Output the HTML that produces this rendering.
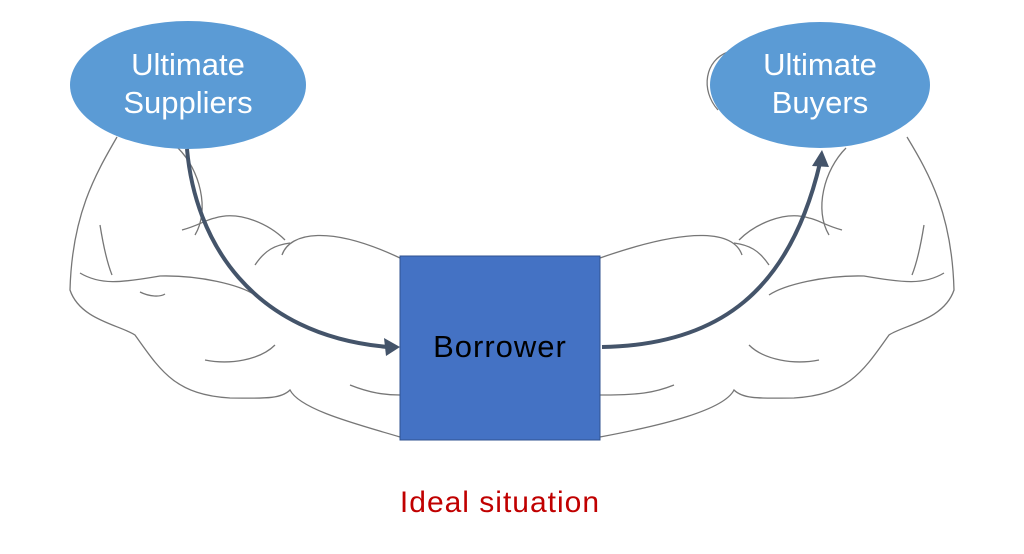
<!DOCTYPE html>
<html><head><style>
body{margin:0;background:#fff;width:1024px;height:549px;overflow:hidden;font-family:"Liberation Sans",sans-serif}
</style></head><body>
<svg width="1024" height="549" viewBox="0 0 1024 549" xmlns="http://www.w3.org/2000/svg">
<g fill="none" stroke="#555" stroke-width="1.3" opacity="0.8">
<path d="M117,137 C95,175 72,215 70,290 C80,320 120,325 135,335 C160,370 175,395 230,398 C260,398 280,400 290,390 C300,410 360,425 400,437"/>
<path d="M178,148 C200,170 210,210 195,235"/>
<path d="M182,230 C200,225 205,220 215,218 C240,210 270,225 285,240"/>
<path d="M282,255 C290,232 330,225 400,258"/>
<path d="M255,265 C265,250 275,245 290,243"/>
<path d="M80,273 C100,285 120,283 160,276 C200,275 240,285 255,295"/>
<path d="M140,292 C150,297 160,297 165,294"/>
<path d="M100,225 C104,250 108,265 112,275"/>
<path d="M205,360 C230,365 260,360 275,345"/>
<path d="M350,385 C370,393 385,395 400,395"/>
<path d="M907,137 C930,175 952,215 954,290 C944,320 904,325 889,335 C864,370 849,395 794,398 C764,398 744,400 734,390 C724,410 664,425 600,437"/>
<path d="M846,148 C824,170 814,210 829,235"/>
<path d="M842,230 C824,225 819,220 809,218 C784,210 754,225 739,240"/>
<path d="M742,255 C734,232 694,225 600,258"/>
<path d="M769,265 C759,250 749,245 734,243"/>
<path d="M944,273 C924,285 904,283 864,276 C824,275 784,285 769,295"/>
<path d="M924,225 C920,250 916,265 912,275"/>
<path d="M819,360 C794,365 764,360 749,345"/>
<path d="M674,385 C654,393 639,395 600,395"/>
<path d="M728,52 C705,60 700,90 718,110"/>
</g>
<ellipse cx="188" cy="85" rx="118" ry="64" fill="#5b9bd5"/>
<ellipse cx="820" cy="85" rx="110" ry="63" fill="#5b9bd5"/>
<text fill="#fff" font-size="31" text-anchor="middle" font-family="Liberation Sans,sans-serif"><tspan x="188" y="75">Ultimate</tspan><tspan x="188" y="113">Suppliers</tspan></text>
<text fill="#fff" font-size="31" text-anchor="middle" font-family="Liberation Sans,sans-serif"><tspan x="820" y="75">Ultimate</tspan><tspan x="820" y="113">Buyers</tspan></text>
<rect x="400" y="256" width="200" height="184" fill="#4472c4" stroke="#2f528f" stroke-width="1"/>
<text x="500" y="357" fill="#000" font-size="31" text-anchor="middle" letter-spacing="1">Borrower</text>
<g fill="none" stroke="#44546a" stroke-width="4">
<path d="M187,149 C195,240 250,335 388,347"/>
<path d="M602,347 C720,345 790,290 820,163"/>
</g>
<polygon points="400,347 384,338 386,356" fill="#44546a"/>
<polygon points="822,150 812,166 829,167" fill="#44546a"/>
<text x="500" y="512" fill="#c00000" font-size="30" text-anchor="middle" letter-spacing="1">Ideal situation</text>
</svg>
</body></html>
